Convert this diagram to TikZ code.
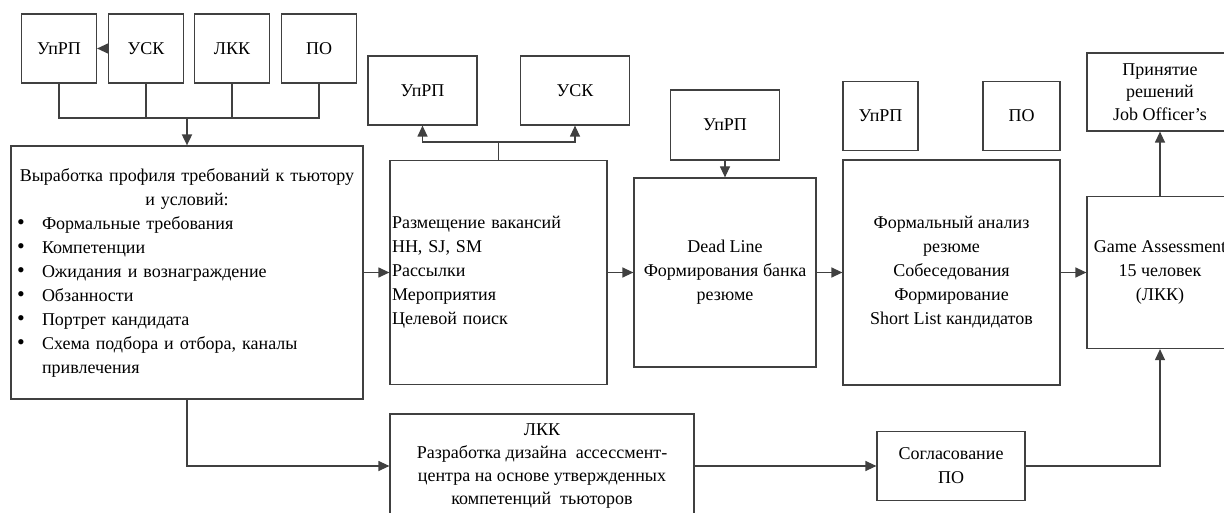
\documentclass[tikz,border=0pt]{standalone}
\usepackage{fontspec}
\setmainfont{Liberation Serif}
\usetikzlibrary{arrows.meta}
\newcommand{\itm}{\makebox[25pt][l]{\fontsize{22}{24}\selectfont\textbullet}}

\begin{document}
\begin{tikzpicture}[x=1pt,y=-1pt,
    box/.style={draw=black!75,line width=1.2pt,inner sep=2pt,align=center,font=\fontsize{18}{24}\selectfont},
    ln/.style={line width=1.2pt,black!75},
    arr/.style={line width=1.2pt,black!75,-{Triangle[length=11pt,width=10pt]}}]
    \useasboundingbox (0,0) rectangle (1224,513);

    % top row
    \node[box,minimum width=75pt,minimum height=69pt] (t1) at (59,48.5) {УпРП};
    \node[box,minimum width=75pt,minimum height=69pt] (t2) at (146,48.5) {УСК};
    \node[box,minimum width=75pt,minimum height=69pt] (t3) at (232,48.5) {ЛКК};
    \node[box,minimum width=75pt,minimum height=69pt] (t4) at (319,48.5) {ПО};
    \node[box,minimum width=109pt,minimum height=69pt] (a1) at (422.5,90.5) {УпРП};
    \node[box,minimum width=109pt,minimum height=69pt] (a2) at (575,90.5) {УСК};
    \node[box,minimum width=109pt,minimum height=70pt] (b1) at (725,125) {УпРП};
    \node[box,minimum width=75pt,minimum height=69pt] (c1) at (880.5,116) {УпРП};
    \node[box,minimum width=77pt,minimum height=69pt] (c2) at (1021.5,116) {ПО};
    \node[box,minimum width=146pt,minimum height=78pt,font=\fontsize{18}{22.5}\selectfont] (dec) at (1160,92) {Принятие\\решений\\Job Officer’s};

    % middle row
    \node[box,text width=340pt,align=left,inner xsep=6pt,minimum height=253pt] (main) at (187,272.5) {%
        {\centering Выработка профиля требований к тьютору\\ и условий:\par}
        \itm Формальные требования\\
        \itm Компетенции\\
        \itm Ожидания и вознаграждение\\
        \itm Обзанности\\
        \itm Портрет кандидата\\
        \itm Схема подбора и отбора, каналы\\
        \hspace*{25pt}привлечения};
    \node[box,text width=213pt,align=left,minimum height=224pt] (place) at (498.5,272.5) {Размещение вакансий\\HH, SJ, SM\\Рассылки\\Мероприятия\\Целевой поиск};
    \node[box,minimum width=182pt,minimum height=189pt] (dead) at (725,272.5) {Dead Line\\Формирования банка\\резюме};
    \node[box,minimum width=217pt,minimum height=225pt] (anal) at (951.5,272.5) {Формальный анализ\\резюме\\Собеседования\\Формирование\\Short List кандидатов};
    \node[box,minimum width=146pt,minimum height=152pt] (game) at (1160,272.5) {Game Assessment\\15 человек\\(ЛКК)};

    % bottom row
    \node[box,minimum width=304pt,minimum height=104pt,font=\fontsize{18}{23}\selectfont] (lkk) at (542,466) {ЛКК\\Разработка дизайна~ ассессмент-\\центра на основе утвержденных\\компетенций~ тьюторов};
    \node[box,minimum width=148pt,minimum height=69pt] (sogl) at (951,466) {Согласование\\ПО};

    \coordinate (j1) at (187,118);
    \coordinate (j2) at (498.5,142);

    \draw[arr] (t2) -- (t1);
    \draw[ln] (t1.south) |- (t4.south |- j1) -- (t4.south);
    \draw[ln] (t2.south) -- (t2.south |- j1);
    \draw[ln] (t3.south) -- (t3.south |- j1);
    \draw[arr,line width=1.8pt] (j1) -- (main);

    \draw[ln] (place) -- (j2);
    \draw[arr] (j2) -| (a1);
    \draw[arr] (j2) -| (a2);
    \draw[arr] (b1) -- (dead);

    \draw[arr] (main) -- (place);
    \draw[arr] (place) -- (dead);
    \draw[arr] (dead) -- (anal);
    \draw[arr] (anal) -- (game);
    \draw[arr] (game) -- (dec);

    \draw[arr] (main.south) |- (lkk);
    \draw[arr] (lkk) -- (sogl);
    \draw[arr] (sogl) -| (game);
\end{tikzpicture}
\end{document}
